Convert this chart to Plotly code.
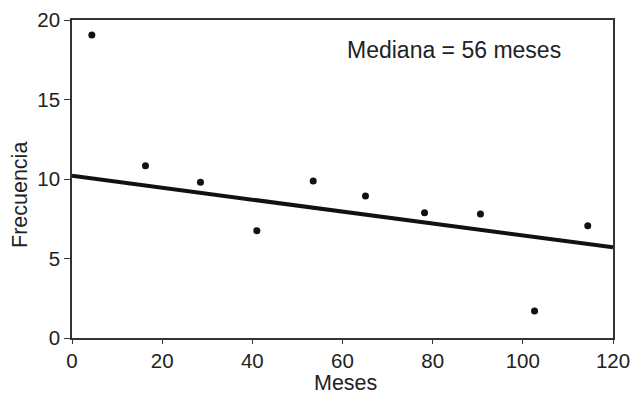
import plotly.graph_objects as go

meses = [4.4, 16.3, 28.5, 41.0, 53.5, 65.1, 78.2, 90.6, 102.6, 114.4]
frecuencia = [19.06, 10.84, 9.8, 6.75, 9.87, 8.93, 7.88, 7.8, 1.70, 7.06]
linea_x = [0, 120]
linea_y = [10.2, 5.7]
x_ticks = [0, 20, 40, 60, 80, 100, 120]
y_ticks = [0, 5, 10, 15, 20]

fam = "Liberation Sans, Arial, Helvetica, sans-serif"
tickfont = dict(family=fam, size=20.5, color="#222222")
titlefont = dict(family=fam, size=21.5, color="#222222")

L, R, T, B = 72, 17, 20, 58
W, H = 630, 396
pw, ph = W - L - R, H - T - B

def px(xp):
    return (xp - L) / pw

def py(yp):
    return (H - B - yp) / ph

fig = go.Figure()
fig.add_trace(go.Scatter(x=linea_x, y=linea_y, mode="lines",
                         line=dict(color="#111111", width=4), showlegend=False))
fig.add_trace(go.Scatter(x=meses, y=frecuencia, mode="markers",
                         marker=dict(color="#111111", size=7), showlegend=False))

fig.update_layout(
    width=W, height=H,
    margin=dict(l=L, r=R, t=T, b=B),
    paper_bgcolor="white", plot_bgcolor="white",
    font=tickfont,
    xaxis=dict(range=[0, 120], tickvals=x_ticks, ticks="outside", ticklen=4,
               tickcolor="#333333", linecolor="#333333", linewidth=1.5, mirror=True,
               showline=True, showgrid=False, zeroline=False, automargin=False,
               ticklabeloverflow="allow", tickfont=tickfont),
    yaxis=dict(range=[0, 20], tickvals=y_ticks, ticks="outside", ticklen=6,
               tickcolor="#333333", linecolor="#333333", linewidth=1.5, mirror=True,
               showline=True, showgrid=False, zeroline=False, automargin=False,
               ticklabeloverflow="allow", tickfont=tickfont),
    annotations=[
        dict(x=px(563), y=py(50), xref="paper", yref="paper",
             text="Mediana = 56 meses", showarrow=False,
             xanchor="right", yanchor="middle",
             font=dict(family=fam, size=23, color="#222222")),
        dict(x=px(345), y=py(396), xref="paper", yref="paper",
             text="Meses", showarrow=False, xanchor="center", yanchor="bottom",
             borderpad=0, font=titlefont),
        dict(x=px(20), y=py(195), xref="paper", yref="paper",
             text="Frecuencia", showarrow=False, xanchor="center", yanchor="middle",
             textangle=-90, font=titlefont),
    ],
)
fig.write_html("out.html")
